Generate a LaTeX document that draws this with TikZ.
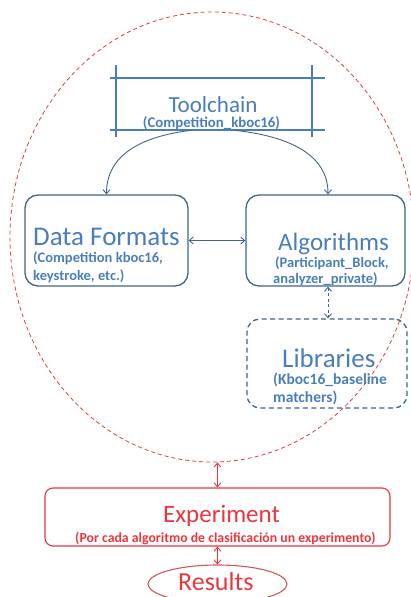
\documentclass[tikz,border=0pt]{standalone}
\usepackage{fontspec}
\setmainfont{Carlito}
\usetikzlibrary{arrows.meta,shapes.geometric}
\definecolor{inkblue}{HTML}{4A7EBB}
\definecolor{boxblue}{HTML}{41648F}
\definecolor{inkred}{HTML}{E8383D}
\definecolor{ringred}{HTML}{D0585A}
\tikzset{
  bluebox/.style={draw=boxblue, line width=1.3pt, rounded corners=13pt, inner sep=0pt},
  title/.style={text=inkblue, font=\fontsize{26}{26}\selectfont, inner sep=0pt, anchor=base west},
  sub/.style={text=inkblue, font=\bfseries\fontsize{14.5}{15}\selectfont, inner sep=0pt, anchor=base west},
  rtitle/.style={text=inkred, font=\fontsize{25}{25}\selectfont, inner sep=0pt, anchor=base west},
  rsub/.style={text=inkred, font=\bfseries\fontsize{13.8}{14}\selectfont, inner sep=0pt, anchor=base west},
  tip/.style={-{Straight Barb[length=4pt,width=7pt]}},
  tips/.style={{Straight Barb[length=4pt,width=7pt]}-{Straight Barb[length=4pt,width=7pt]}},
}
\begin{document}
\begin{tikzpicture}[x=1pt,y=-1pt]
\useasboundingbox (0,0) rectangle (410,597);

% dashed red region around the tool components
\node[draw=inkred, line width=0.8pt, dash pattern=on 4pt off 3pt, ellipse,
      minimum width=404pt, minimum height=450pt, inner sep=0pt] (scope) at (212,237) {};

% Toolchain: sketched rectangle with overhanging lines
\node[minimum width=196pt, minimum height=52pt, inner sep=0pt] (tc) at (214,104) {};
\draw[inkblue, line width=1.6pt]
  ([xshift=-6pt]tc.north west) -- ([xshift=13pt]tc.north east)
  ([xshift=-6pt]tc.south west) -- ([xshift=13pt]tc.south east)
  ([yshift=13pt]tc.north west) -- ([yshift=-7pt]tc.south west)
  ([yshift=13pt]tc.north east) -- ([yshift=-7pt]tc.south east);
\node[anchor=base, text=inkblue, font=\fontsize{23}{23}\selectfont, inner sep=0pt] (tct) at (213,112) {Toolchain};
\node[anchor=base, text=inkblue, font=\bfseries\fontsize{14.8}{15}\selectfont, inner sep=0pt] (tcs) at (211.5,127) {(Competition\_kboc16)};

% component boxes
\node[bluebox, minimum width=163pt, minimum height=91pt] (df) at (106.5,240.5) {};
\node[bluebox, minimum width=159pt, minimum height=91pt] (alg) at (325.5,240.5) {};
\node[bluebox, dash pattern=on 5pt off 3.5pt, minimum width=160pt, minimum height=89pt] (lib) at (327,363.5) {};

\node[title, font=\fontsize{27}{27}\selectfont] (dft) at (33,245) {Data Formats};
\node[sub] (dfs1) at (33,262) {(Competition kboc16,};
\node[sub] (dfs2) at (33,280) {keystroke, etc.)};

\node[title, font=\fontsize{25}{25}\selectfont] (algt) at (278,250) {Algorithms};
\node[sub] (algs1) at (275,267) {(Participant\_Block,};
\node[sub] (algs2) at (273,283) {analyzer\_private)};

\node[title, font=\fontsize{27}{27}\selectfont] (libt) at (282,367) {Libraries};
\node[sub, font=\bfseries\fontsize{15.5}{16}\selectfont] (libs1) at (273,384) {(Kboc16\_baseline};
\node[sub, font=\bfseries\fontsize{15.5}{16}\selectfont] (libs2) at (273,402) {matchers)};

% connectors between components
\draw[boxblue, line width=0.9pt, tip] ([xshift=-22pt]tc.south) .. controls +(-50,6) and +(0,-40) .. (df.north);
\draw[boxblue, line width=0.9pt, tip] ([xshift=20pt]tc.south) .. controls +(55,6) and +(0,-40) .. ([xshift=2.5pt]alg.north);
\draw[boxblue, line width=0.9pt, tips] (df.east) -- (alg.west);
\draw[boxblue, line width=0.9pt, tips, dash pattern=on 3pt off 2.5pt] ([xshift=2.5pt]alg.south) -- ([xshift=1pt]lib.north);

% experiment and results
\node[draw=inkred, line width=1.1pt, rounded corners=8pt, minimum width=345pt, minimum height=58pt, inner sep=0pt] (exp) at (217.5,517) {};
\node[rtitle] (expt) at (163,522) {Experiment};
\node[rsub] (exps) at (75,542) {(Por cada algoritmo de clasificación un experimento)};

\node[draw=ringred, line width=1.1pt, ellipse, minimum width=139pt, minimum height=38pt, inner sep=0pt] (res) at (217.5,584) {};
\node[rtitle, font=\fontsize{26}{26}\selectfont] (rest) at (178,590) {Results};

\draw[inkred, line width=0.9pt, tips] (exp.north |- scope.south) -- (exp.north);
\draw[inkred, line width=0.9pt, tips] (exp.south) -- (res.north);
\end{tikzpicture}
\end{document}
